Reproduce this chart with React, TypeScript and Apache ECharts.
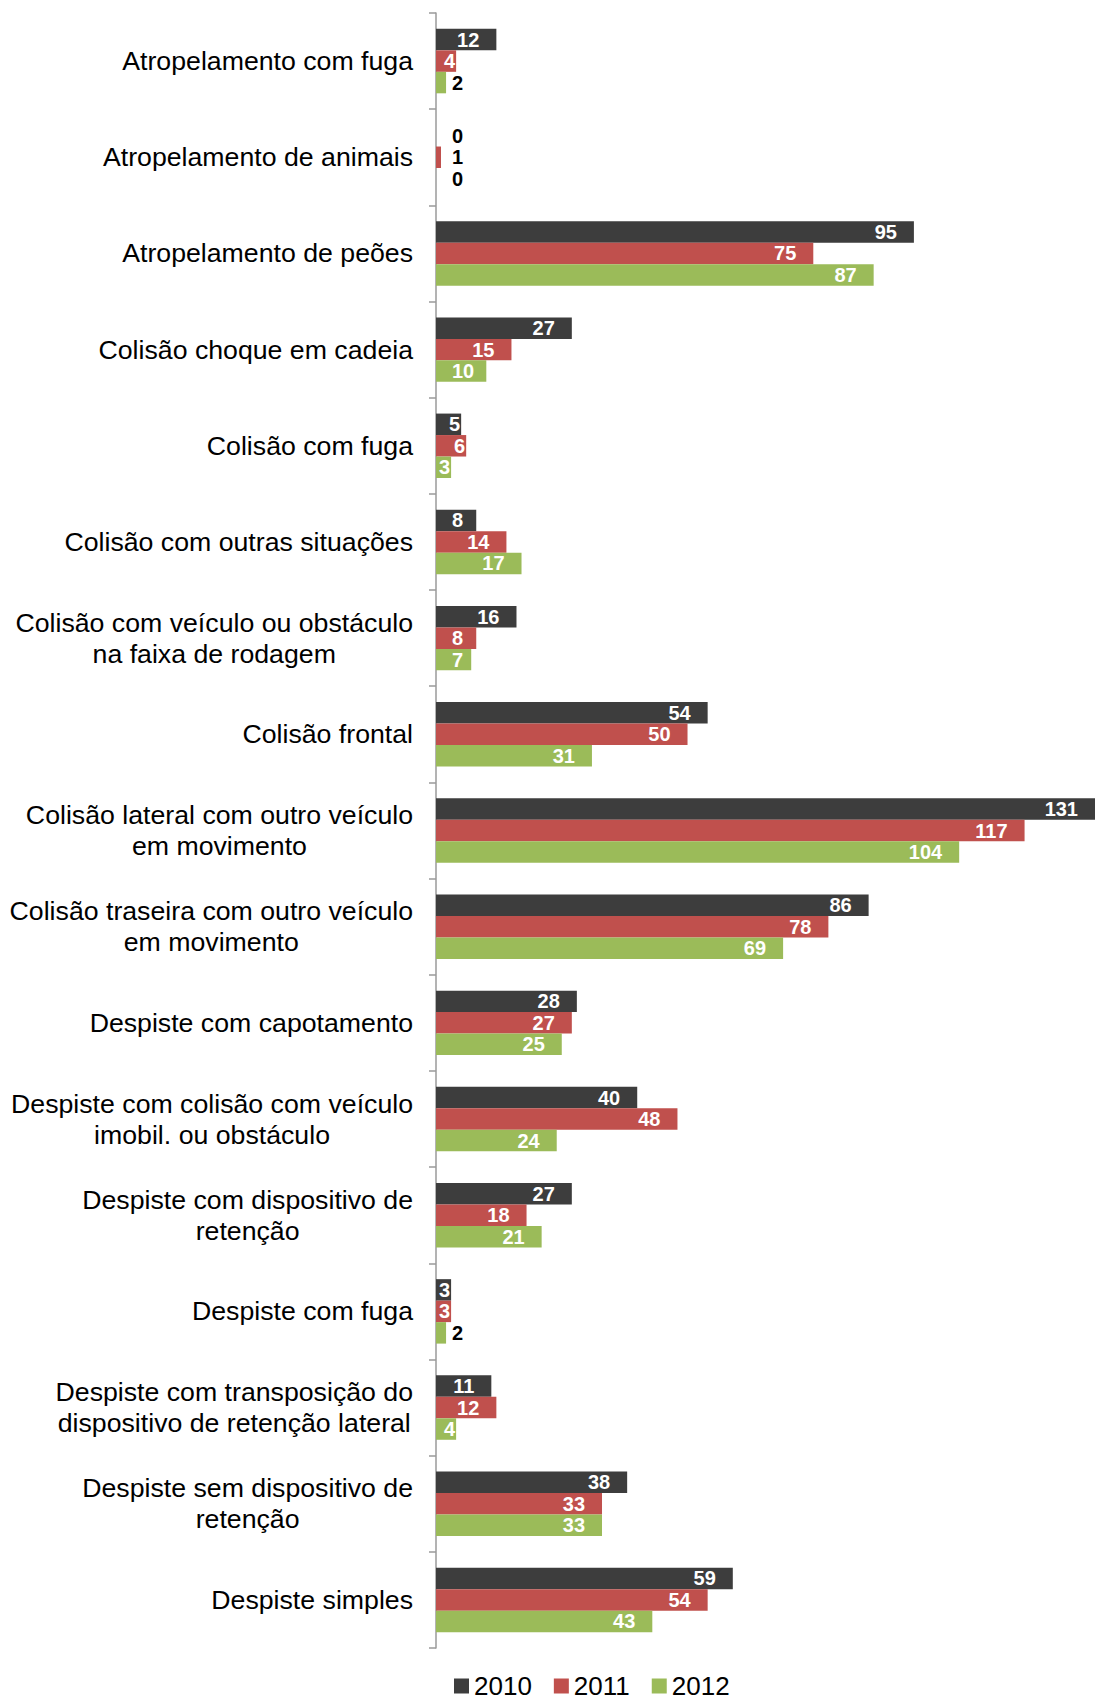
import React, { useEffect, useRef } from "react";
import * as echarts from "echarts";

const categories: string[] = [
  "Atropelamento com fuga",
  "Atropelamento de animais",
  "Atropelamento de peões",
  "Colisão choque em cadeia",
  "Colisão com fuga",
  "Colisão com outras situações",
  "Colisão com veículo ou obstáculo\nna faixa de rodagem",
  "Colisão frontal",
  "Colisão lateral com outro veículo\nem movimento",
  "Colisão traseira com outro veículo\nem movimento",
  "Despiste com capotamento",
  "Despiste com colisão com veículo\nimobil. ou obstáculo",
  "Despiste com dispositivo de\nretenção",
  "Despiste com fuga",
  "Despiste com transposição do\ndispositivo de retenção lateral",
  "Despiste sem dispositivo de\nretenção",
  "Despiste simples",
];

const seriesNames: string[] = ["2010", "2011", "2012"];
const values2010: number[] = [12, 0, 95, 27, 5, 8, 16, 54, 131, 86, 28, 40, 27, 3, 11, 38, 59];
const values2011: number[] = [4, 1, 75, 15, 6, 14, 8, 50, 117, 78, 27, 48, 18, 3, 12, 33, 54];
const values2012: number[] = [2, 0, 87, 10, 3, 17, 7, 31, 104, 69, 25, 24, 21, 2, 4, 33, 43];
const colors: string[] = ["#3d3d3d", "#c0504d", "#9bbb59"];

const PAGE_W = 1095;
const PAGE_H = 1700;
const GRID_LEFT = 436;
const GRID_TOP = 13;
const GRID_BOTTOM = 52;
const X_MAX = 131;
const LABEL_FONT = 20;
const CAT_FONT = 26.7;
const FONT = "Liberation Sans, Arial, sans-serif";

function App() {
  const ref = useRef<HTMLDivElement>(null);

  useEffect(() => {
    document.body.style.margin = "0";
    if (!ref.current) return;
    const chart = echarts.init(ref.current, null, { renderer: "svg" });
    const plotW = PAGE_W - GRID_LEFT;
    const scale = plotW / X_MAX;

    const makeData = (vals: number[]) =>
      vals.map((v) => {
        const w = String(v).length * 0.556 * LABEL_FONT;
        const L = v * scale;
        const right = v >= 3 && v <= 6 ? L - 1 : Math.max(L - 17, 16 + w);
        return {
          value: v,
          label: {
            position: [right, "50%"],
            align: "right",
            verticalAlign: "middle",
            color: v <= 2 ? "#000000" : "#ffffff",
          },
        };
      });

    const allVals = [values2010, values2011, values2012];

    chart.setOption({
      animation: false,
      textStyle: { fontFamily: FONT },
      grid: { left: GRID_LEFT, right: 0, top: GRID_TOP, bottom: GRID_BOTTOM, containLabel: false },
      legend: {
        left: 454,
        top: 1673,
        padding: 0,
        itemWidth: 15,
        itemHeight: 15,
        itemGap: 22,
        icon: "rect",
        data: seriesNames,
        textStyle: { fontSize: 26, lineHeight: 22, color: "#000", fontFamily: FONT },
      },
      xAxis: { type: "value", min: 0, max: X_MAX, show: false, splitLine: { show: false } },
      yAxis: {
        type: "category",
        inverse: true,
        data: categories,
        axisLine: { show: true, lineStyle: { color: "#9a9a9a", width: 1.5 } },
        axisTick: { show: true, length: 7, lineStyle: { color: "#9a9a9a", width: 1.5 } },
        axisLabel: {
          margin: 23,
          align: "right",
          fontSize: CAT_FONT,
          color: "#000",
          lineHeight: 31,
          fontFamily: FONT,
          formatter: (val: string) =>
            val
              .split("\n")
              .map((l) => "{c|" + l + "}")
              .join("\n"),
          rich: {
            c: {
              align: "center",
              fontSize: CAT_FONT,
              lineHeight: 31,
              color: "#000",
              fontFamily: FONT,
            },
          },
        },
      },
      series: seriesNames.map((name, i) => ({
        name,
        type: "bar",
        data: makeData(allVals[i]),
        barGap: "0%",
        barCategoryGap: "33%",
        itemStyle: { color: colors[i] },
        label: {
          show: true,
          fontSize: LABEL_FONT,
          fontWeight: "bold",
          fontFamily: FONT,
        },
      })),
    });
    return () => chart.dispose();
  }, []);

  return <div ref={ref} style={{ width: PAGE_W, height: PAGE_H }} />;
}

export default App;
